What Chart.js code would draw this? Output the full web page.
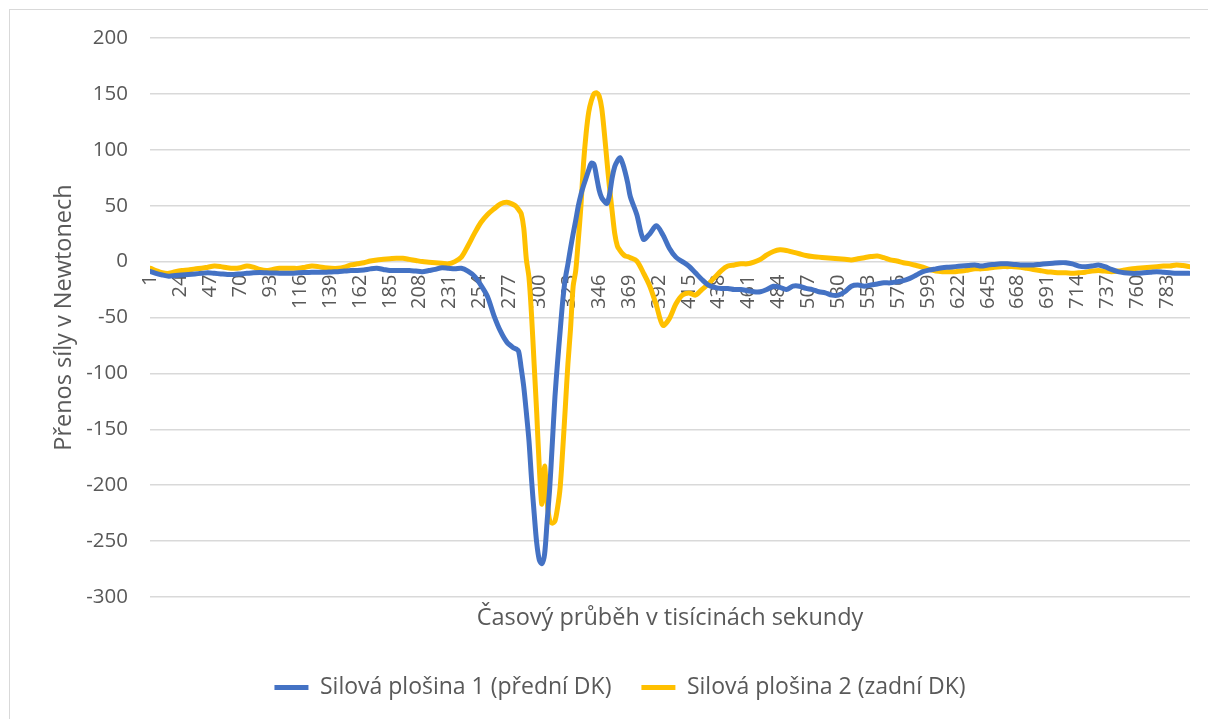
<!DOCTYPE html>
<html>
<head>
<meta charset="utf-8">
<script src="https://cdn.jsdelivr.net/npm/chart.js@4.4.1/dist/chart.umd.min.js"></script>
<style>
  html, body { margin: 0; padding: 0; background: #ffffff; }
  canvas { display: block; }
</style>
</head>
<body>
<canvas id="forceChart" width="1208" height="719"></canvas>
<script>
// sample times (ms)
const times = [1, 5, 10, 15, 20, 25, 30, 35, 40, 45, 50, 55, 60, 65, 70, 75, 80, 85, 90, 95,
  100, 105, 110, 115, 120, 125, 130, 135, 140, 145, 150, 155, 160, 165, 170, 175, 180, 185, 190, 195,
  200, 205, 210, 215, 220, 225, 230, 235, 240, 245, 250, 255, 260, 265, 270, 275, 280,
  282, 284, 286, 288, 290, 292, 294, 296, 298, 300, 302, 304, 306, 308, 310, 312, 314, 316, 318, 320,
  322, 324, 326, 328, 330, 332, 334, 336, 338, 340, 342, 344, 346, 348, 350, 352, 354, 356, 358, 360,
  362, 364, 366, 368, 370, 375, 380, 385, 390, 395,
  400, 405, 410, 415, 420, 425, 430, 435, 440, 445, 450, 455, 460, 465, 470, 475, 480, 485, 490, 495,
  500, 505, 510, 515, 520, 525, 530, 535, 540, 545, 550, 555, 560, 565, 570, 575, 580, 585, 590, 595,
  600, 605, 610, 615, 620, 625, 630, 635, 640, 645, 650, 655, 660, 665, 670, 675, 680, 685, 690, 695,
  700, 705, 710, 715, 720, 725, 730, 735, 740, 745, 750, 755, 760, 765, 770, 775, 780, 785, 790, 795, 800];

// Silová plošina 1 (přední DK)
const plate1 = [-9, -10.5, -12, -13, -12.5, -12, -11.5, -11, -10.5, -10, -10.5, -11, -11.5, -11.5, -11, -10.5, -10, -9.8, -10, -10.2,
  -10.4, -10.5, -10.4, -10, -9.8, -9.6, -9.5, -9.5, -9.2, -9, -8.5, -8, -8, -7.5, -6.5, -6, -7, -8, -8, -8,
  -8, -8.5, -9, -8, -7, -5.5, -6, -6.5, -6, -8.5, -13, -21, -31, -48, -62, -72, -77,
  -78, -80, -95, -112, -135, -160, -195, -225, -252, -267, -270, -262, -232, -202, -162, -121, -90, -62, -35, -15,
  -2, 12, 25, 37, 50, 60, 68, 75, 82, 88, 87, 76, 64, 57, 54, 52, 60, 75, 85, 90,
  93, 88, 80, 70, 58, 42, 20, 25, 32, 24,
  12, 4, 0, -4, -10, -16, -21, -23, -24, -24, -25, -25, -26, -27, -27, -25, -22, -23, -25, -22,
  -22, -24, -25, -27, -28, -30, -30, -27, -22, -21, -22, -21, -20, -19, -19, -18, -17, -15, -12, -9,
  -7.5, -6.5, -5.5, -5, -4.5, -4, -3.5, -3, -4, -3, -2.5, -2, -2, -2.5, -3, -3, -3, -2.5, -2, -1.5,
  -1, -1, -2, -4, -4.5, -4, -3, -4.5, -7, -9, -10, -10.5, -10.5, -10, -9.5, -9, -9.5, -10, -10.5, -10.5, -10.5];

// Silová plošina 2 (zadní DK)
const plate2 = [-6, -8, -10, -10.5, -9, -8, -7.5, -6.5, -6, -5, -4, -4.5, -5.5, -6, -5.5, -4, -5, -7, -8, -7,
  -6, -6, -6, -6, -5, -4, -4.5, -5.5, -6, -6, -5, -3, -2, -1, 0.5, 1.5, 2, 2.5, 3, 3,
  2, 1, 0, -0.5, -1, -1.5, -2, 0, 4, 14, 25, 35, 42, 47, 51.5, 53, 51,
  49.5, 46.5, 43, 30, 2, -14, -48, -92, -136, -185, -217, -183, -215, -232, -234, -232, -220, -202, -168, -130,
  -91, -60, -22, -8, 20, 50, 88, 115, 134, 144, 150, 151, 148, 137, 115, 90, 66, 45, 25, 14,
  10, 7, 5, 4.5, 3.5, 0.5, -10, -22, -39, -57,
  -51, -38, -30, -28, -30, -25, -20, -14, -8, -4, -3, -2, -2, -0.5, 2, 6, 9, 10.5, 10, 8.5,
  7, 5.5, 4.5, 4, 3.5, 3, 2.5, 2, 1.5, 2.5, 3.5, 4.5, 5, 3.5, 1.5, 0.5, -1, -2, -3.5, -5,
  -7, -8.5, -9, -9, -9, -8.5, -7.5, -6.5, -6.5, -6, -5, -4.5, -4.5, -4.5, -5, -6, -7, -8, -9, -9.5,
  -10, -10, -10.5, -10, -9.5, -8.5, -8, -8.5, -9, -8.5, -7.5, -6.5, -6, -5.5, -5, -4.5, -4, -4, -3, -3.5, -4.5];

// category labels shown on the axis at zero
const xLabels = [1, 24, 47, 70, 93, 116, 139, 162, 185, 208, 231, 254, 277, 300, 323, 346, 369, 392, 415,
  438, 461, 484, 507, 530, 553, 576, 599, 622, 645, 668, 691, 714, 737, 760, 783];

const yTicks = [200, 150, 100, 50, 0, -50, -100, -150, -200, -250, -300];

const FONT = "'Open Sans', sans-serif";
const TEXT = "#595959";

function toPoints(vals) {
  return times.map((t, i) => ({ x: t, y: vals[i] }));
}

// frame around the chart
const framePlugin = {
  id: "frame",
  beforeDraw(chart) {
    const ctx = chart.ctx;
    ctx.save();
    ctx.strokeStyle = "#d9d9d9";
    ctx.lineWidth = 1;
    ctx.strokeRect(9.5, 9.5, 1400, 900);
    ctx.restore();
  }
};

// rotated category labels sitting under the zero line (drawn below the lines)
const zeroLabels = {
  id: "zeroLabels",
  beforeDatasetsDraw(chart) {
    const ctx = chart.ctx;
    const x = chart.scales.x;
    const y0 = chart.scales.y.getPixelForValue(0);
    ctx.save();
    ctx.fillStyle = TEXT;
    ctx.font = "20px " + FONT;
    ctx.textAlign = "right";
    ctx.textBaseline = "middle";
    xLabels.forEach(l => {
      ctx.save();
      ctx.translate(x.getPixelForValue(l), y0 + 13);
      ctx.rotate(-Math.PI / 2);
      ctx.fillText(String(l), 0, 0);
      ctx.restore();
    });
    ctx.restore();
  }
};

new Chart(document.getElementById("forceChart"), {
  type: "line",
  data: {
    datasets: [
      {
        label: "Silová plošina 1 (přední DK)",
        data: toPoints(plate1),
        borderColor: "#4472C4",
        backgroundColor: "#4472C4",
        borderWidth: 5,
        borderCapStyle: "round",
        borderJoinStyle: "round",
        pointRadius: 0,
        tension: 0.3,
        pointStyle: "line"
      },
      {
        label: "Silová plošina 2 (zadní DK)",
        data: toPoints(plate2),
        borderColor: "#FFC000",
        backgroundColor: "#FFC000",
        borderWidth: 5,
        borderCapStyle: "round",
        borderJoinStyle: "round",
        pointRadius: 0,
        tension: 0.3,
        pointStyle: "line"
      }
    ]
  },
  options: {
    responsive: false,
    animation: false,
    layout: { padding: { top: 38, right: 18, left: 50, bottom: 10 } },
    plugins: {
      legend: {
        position: "bottom",
        labels: {
          usePointStyle: true,
          pointStyleWidth: 34,
          color: TEXT,
          font: { family: FONT, size: 23 },
          padding: 30
        }
      },
      tooltip: { enabled: false }
    },
    scales: {
      x: {
        type: "linear",
        min: 0.5,
        max: 800.5,
        grid: { display: false },
        border: { display: false },
        ticks: { display: false },
        title: {
          display: true,
          text: "Časový průběh v tisícinách sekundy",
          color: TEXT,
          font: { family: FONT, size: 23.5 },
          padding: { top: 0, bottom: 14 }
        },
        afterFit(s) { s.height = 49; }
      },
      y: {
        min: -300,
        max: 200,
        afterBuildTicks(s) { s.ticks = yTicks.map(v => ({ value: v })); },
        grid: { color: "#d9d9d9", lineWidth: 1.5, drawTicks: false },
        border: { display: false },
        ticks: {
          color: TEXT,
          font: { family: FONT, size: 20.5 },
          padding: 22
        },
        title: {
          display: true,
          text: "Přenos síly v Newtonech",
          color: TEXT,
          font: { family: FONT, size: 23.5 },
          padding: { top: 0, bottom: 0 }
        },
        afterFit(s) { s.width = 100; }
      }
    }
  },
  plugins: [framePlugin, zeroLabels]
});
</script>
</body>
</html>
